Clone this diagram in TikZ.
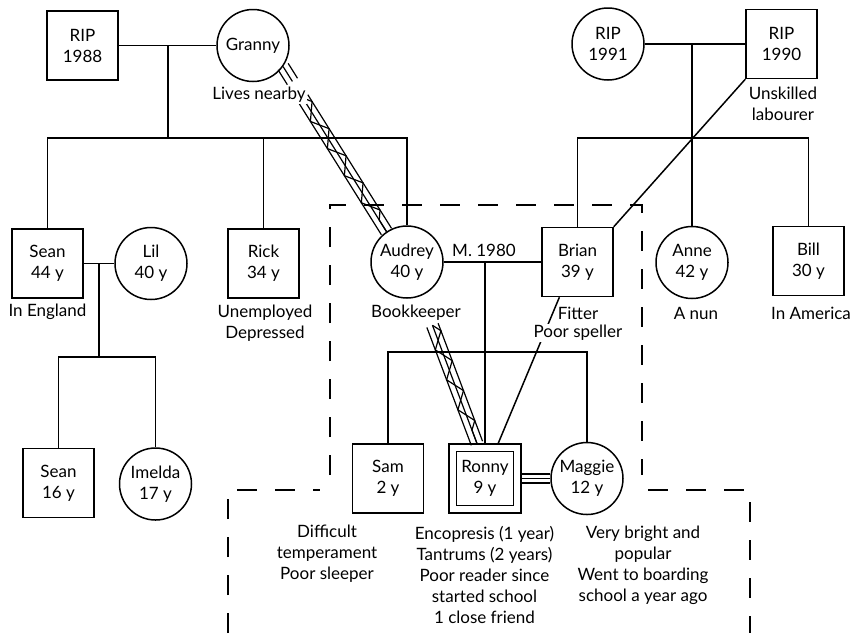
\documentclass[tikz,border=0pt]{standalone}
\usepackage{fontspec}
\setmainfont{Lato}
\usetikzlibrary{calc,decorations.pathmorphing}
\begin{document}
\begin{tikzpicture}[x=1pt,y=-1pt,
  every node/.style={font=\fontsize{17pt}{21pt}\selectfont, text=black},
  male/.style={draw, rectangle, line width=1.5pt, minimum width=71pt, minimum height=69pt, inner sep=0pt, align=center},
  female/.style={draw, circle, line width=1.5pt, minimum size=72pt, inner sep=0pt, align=center},
  lbl/.style={align=center, fill=white, inner sep=1pt},
  plainlbl/.style={align=center, inner sep=1pt},
  rel/.style={line width=1.5pt},
  hh/.style={line width=1.5pt, dash pattern=on 20pt off 18pt},
  bund/.style={line width=1.2pt},
  zz/.style={line width=1.2pt, decorate, decoration={zigzag, amplitude=6pt, segment length=32pt}},
]
\useasboundingbox (0,0) rectangle (853,633);

% persons
\node[male] (rip88) at (82.5,45.5) {RIP\\1988};
\node[female] (granny) at (253,45.5) {Granny};
\node[female] (rip91) at (608,44) {RIP\\1991};
\node[male] (rip90) at (781.5,44) {RIP\\1990};
\node[male] (sean44) at (47.5,263.5) {Sean\\44 y};
\node[female] (lil) at (151,263.5) {Lil\\40 y};
\node[male] (rick) at (263.5,263.5) {Rick\\34 y};
\node[female] (audrey) at (407,262) {Audrey\\40 y};
\node[male] (brian) at (577.5,262) {Brian\\39 y};
\node[female] (anne) at (692,262.5) {Anne\\42 y};
\node[male] (bill) at (808.5,261) {Bill\\30 y};
\node[male] (sean16) at (58.5,483) {Sean\\16 y};
\node[female] (imelda) at (155.5,484) {Imelda\\17 y};
\node[male] (sam) at (388,478.5) {Sam\\2 y};
\node[male, minimum width=72pt] (ronny) at (485,478.5) {};
\node[draw, rectangle, line width=1.5pt, minimum width=57pt, minimum height=54pt, inner sep=0pt, align=center] (ronnyin) at (ronny.center) {Ronny\\9 y};
\node[female] (maggie) at (587,478.5) {Maggie\\12 y};

% households
\draw[hh] (330,475) -- (330,205) -- (642,205) -- (642,475);
\draw[hh] (228,633) -- (228,490) -- (320,490);
\draw[hh] (648,490) -- (750,490) -- (750,633);

% family lines
\draw[rel] (rip88.east) -- (granny.west);
\coordinate (j1) at (168,138);
\draw[rel] (j1 |- rip88.east) -- (j1);
\draw[rel] (sean44.north) |- (j1) -| (audrey.north);
\draw[rel] (rick.north) -- (rick.north |- j1);
\draw[rel] (rip91.east) -- (rip90.west);
\coordinate (j2) at (692,138);
\draw[rel] (j2 |- rip91.east) -- (j2);
\draw[rel] (brian.north) |- (j2) -| (bill.north);
\draw[rel] (anne.north) -- (j2);
\draw[rel] (rip90.south west) -- (brian.north east);
\draw[rel] (sean44.east) -- (lil.west);
\coordinate (j3) at (99,357);
\draw[rel] (j3 |- sean44.east) -- (j3);
\draw[rel] (sean16.north) |- (j3) -| (imelda.north);
\draw[rel] (audrey.east) -- (brian.west);
\coordinate (j4) at (485,352);
\draw[rel] (ronny.north |- audrey.east) -- (ronny.north);
\draw[rel] (sam.north) |- (j4) -| (maggie.north);
\foreach \d in {-4.5,0,4.5}
  \draw[line width=1.1pt] ($(ronny.east)+(0,\d)$) -- ($(maggie.west)+(0,\d)$);
\draw[rel] ($(brian.south west)!0.25!(brian.south east)$) -- ($(ronny.north west)!0.68!(ronny.north east)$);

% enmeshed / conflictual bundles
\coordinate (gA) at (granny.-35);
\coordinate (gB) at (audrey.124);
\coordinate (g1) at ($(gA)!0.09!(gB)$);
\coordinate (g2) at ($(gA)!0.19!(gB)$);
\foreach \d in {-6pt,0pt,6pt}{
  \draw[bund] ($(gA)!\d!90:(g1)$) -- ($(g1)!\d!-90:(gA)$);
  \draw[bund] ($(g2)!\d!90:(gB)$) -- ($(gB)!\d!-90:(g2)$);
}
\draw[zz] (g2) -- (gB);
\coordinate (aA) at (audrey.-67);
\coordinate (aB) at ($(ronny.north west)!0.39!(ronny.north east)$);
\coordinate (a1) at ($(aA)!0.2!(aB)$);
\foreach \d in {-6pt,0pt,6pt}{
  \draw[bund] ($(a1)!\d!90:(aB)$) -- ($(aB)!\d!-90:(a1)$);
}
\draw[zz] (a1) -- (aB);

% labels
\node[lbl] (livesn) at (259,95) {Lives nearby};
\node[lbl] (unsk) at (783,104) {Unskilled\\labourer};
\node[lbl] (inengl) at (47.5,312) {In England};
\node[lbl] (unemp) at (265,323) {Unemployed\\Depressed};
\node[lbl] (bookk) at (416,313) {Bookkeeper};
\node[plainlbl] (m1980) at (484,250) {M. 1980};
\node[lbl] (fitter) at (578,313) {Fitter};
\node[lbl] (pspell) at (578,333) {Poor speller};
\node[lbl] (annel) at (696,313) {A nun};
\node[lbl] (billl) at (811,313) {In America};
\node[lbl] (samtxt) at (327,554) {Difficult\\temperament\\Poor sleeper};
\node[lbl] (ronnytxt) at (484.5,575) {Encopresis (1 year)\\Tantrums (2 years)\\Poor reader since\\started school\\1 close friend};
\node[lbl] (maggtxt) at (643,565) {Very bright and\\popular\\Went to boarding\\school a year ago};
\end{tikzpicture}
\end{document}
